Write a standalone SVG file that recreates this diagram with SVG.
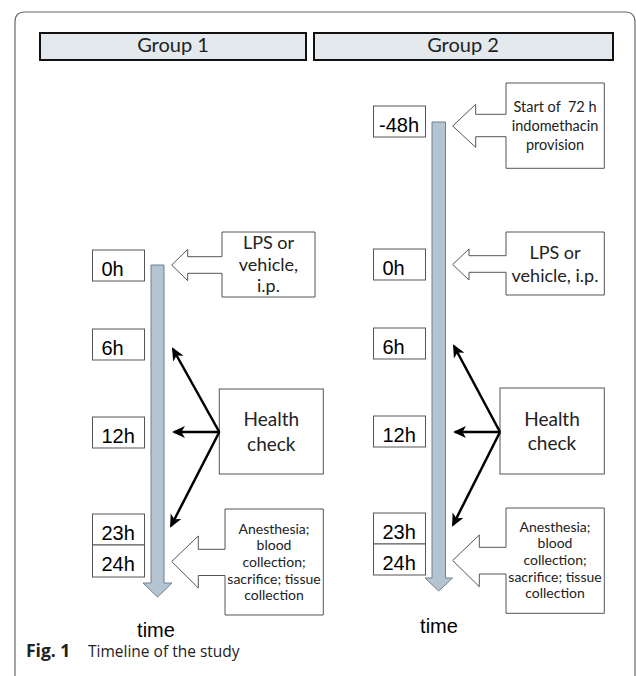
<svg xmlns="http://www.w3.org/2000/svg" width="636" height="676" viewBox="0 0 636 676">
<defs>
<style>
.frame{fill:none;stroke:#666;stroke-width:1.2}
.hdr{fill:#E3E9EC;stroke:#111;stroke-width:2}
.hdrt{font-family:Lato,"Liberation Sans",sans-serif;font-size:20px;fill:#222;text-anchor:middle}
.bar{fill:#B4C4D0;stroke:#6F808D;stroke-width:1}
.lbl{fill:#fff;stroke:#555;stroke-width:1}
.lblt{font-family:"Liberation Sans",Arial,sans-serif;font-size:20px;fill:#000}
.call{fill:#fff;stroke:#555;stroke-width:1}
.ct{font-family:Lato,"Liberation Sans",sans-serif;fill:#222;text-anchor:middle}
.c18{font-size:18px}
.c14{font-size:14.5px}
.c13{font-size:14px}
.c19{font-size:19px}
.conn{stroke:#000;stroke-width:2.5;fill:none;marker-end:url(#ah)}
.time{font-family:"Liberation Sans",Arial,sans-serif;font-size:20px;fill:#000;text-anchor:middle}
.cap{font-family:"Open Sans","Liberation Sans",sans-serif;font-size:15.5px;fill:#222}
</style>
<marker id="ah" markerUnits="userSpaceOnUse" markerWidth="16" markerHeight="14" refX="11" refY="6" orient="auto"><path d="M0,0 L13,6 L0,12 L3.5,6 Z" fill="#000"/></marker>
</defs>

<path class="frame" d="M15,676 V22 Q15,12 25,12 H625 Q635,12 635,22 V676"/>

<g id="header-group1"><rect class="hdr" x="40" y="33" width="266" height="27"/><text class="hdrt" x="173" y="52">Group 1</text></g>
<g id="header-group2"><rect class="hdr" x="314" y="33" width="299" height="27"/><text class="hdrt" x="463" y="52">Group 2</text></g>

<g id="timeline1"><path class="bar" d="M151,265 H164 V583 H172 L157.5,597 L143,583 H151 Z"/></g>
<g id="timeline2"><path class="bar" d="M432,122 H445.5 V578 H452.5 L438.75,591 L425,578 H432 Z"/></g>

<g id="g1-0h"><rect class="lbl" x="92.5" y="250" width="52" height="31"/><text class="lblt" x="101.5" y="275.5">0h</text></g>
<g id="g1-6h"><rect class="lbl" x="92.5" y="329" width="52" height="31"/><text class="lblt" x="101.5" y="354.5">6h</text></g>
<g id="g1-12h"><rect class="lbl" x="92.5" y="417" width="52" height="31"/><text class="lblt" x="101.5" y="442.5">12h</text></g>
<g id="g1-23h"><rect class="lbl" x="92.5" y="514" width="52" height="31"/><text class="lblt" x="101.5" y="539.5">23h</text></g>
<g id="g1-24h"><rect class="lbl" x="92.5" y="545" width="52" height="32"/><text class="lblt" x="101.5" y="571">24h</text></g>

<g id="g2-m48h"><rect class="lbl" x="373.5" y="106" width="52" height="31"/><text class="lblt" x="379" y="131.5">-48h</text></g>
<g id="g2-0h"><rect class="lbl" x="373.5" y="249" width="52" height="31"/><text class="lblt" x="382.5" y="274.5">0h</text></g>
<g id="g2-6h"><rect class="lbl" x="373.5" y="328" width="52" height="31"/><text class="lblt" x="382.5" y="353.5">6h</text></g>
<g id="g2-12h"><rect class="lbl" x="373.5" y="416" width="52" height="31"/><text class="lblt" x="382.5" y="441.5">12h</text></g>
<g id="g2-23h"><rect class="lbl" x="373.5" y="513" width="52" height="31"/><text class="lblt" x="382.5" y="538.5">23h</text></g>
<g id="g2-24h"><rect class="lbl" x="373.5" y="544" width="52" height="31"/><text class="lblt" x="382.5" y="569.5">24h</text></g>

<g id="g1-lps">
<polygon class="call" points="222,232 315,232 315,297 222,297 222,273.3 187.7,273.3 187.7,280.7 171.7,265 187.7,249.3 187.7,256.7 222,256.7"/>
<text class="ct c18" x="268.5" y="248.5">LPS or</text>
<text class="ct c18" x="268.5" y="270.5">vehicle,</text>
<text class="ct c18" x="268.5" y="292">i.p.</text>
</g>

<g id="g2-start">
<polygon class="call" points="506,83 604.3,83 604.3,168.3 506,168.3 506,136.7 475.7,136.7 475.7,147.3 452.7,126 475.7,104.3 475.7,114.3 506,114.3"/>
<text class="ct c14" x="555" y="112" xml:space="preserve">Start of  72 h</text>
<text class="ct c14" x="555" y="131">indomethacin</text>
<text class="ct c14" x="555" y="150">provision</text>
</g>

<g id="g2-lps">
<polygon class="call" points="506,232 604.3,232 604.3,295 506,295 506,272.3 469,272.3 469,280 452.7,264.5 469,249 469,255.7 506,255.7"/>
<text class="ct c18" x="555" y="258.5">LPS or</text>
<text class="ct c18" x="555" y="281.5">vehicle, i.p.</text>
</g>

<g id="g1-health">
<rect class="lbl" x="219.3" y="389" width="104" height="85"/>
<text class="ct c19" x="271.3" y="426">Health</text>
<text class="ct c19" x="271.3" y="450.5">check</text>
</g>

<g id="g2-health">
<rect class="lbl" x="500" y="388" width="104.3" height="86"/>
<text class="ct c19" x="552" y="425.5">Health</text>
<text class="ct c19" x="552" y="450">check</text>
</g>

<g id="g1-end">
<polygon class="call" points="225,509 323.3,509 323.3,615 225,615 225,575.5 198.3,575.5 198.3,588 171.7,561.5 198.3,536 198.3,549.3 225,549.3"/>
<text class="ct c13" x="274" y="533.5">Anesthesia;</text>
<text class="ct c13" x="274" y="550.2">blood</text>
<text class="ct c13" x="274" y="567">collection;</text>
<text class="ct c13" x="274" y="583.7">sacrifice; tissue</text>
<text class="ct c13" x="274" y="600.4">collection</text>
</g>

<g id="g2-end">
<polygon class="call" points="506,508 604.3,508 604.3,613.3 506,613.3 506,574 479.3,574 479.3,586.7 452.7,560.5 479.3,535 479.3,547.3 506,547.3"/>
<text class="ct c13" x="555" y="531.5">Anesthesia;</text>
<text class="ct c13" x="555" y="548.2">blood</text>
<text class="ct c13" x="555" y="565">collection;</text>
<text class="ct c13" x="555" y="581.7">sacrifice; tissue</text>
<text class="ct c13" x="555" y="598.4">collection</text>
</g>

<g id="connectors">
<line class="conn" x1="219.3" y1="432" x2="173" y2="349"/>
<line class="conn" x1="219.3" y1="432" x2="174" y2="432"/>
<line class="conn" x1="219.3" y1="432" x2="171" y2="526"/>
<line class="conn" x1="500" y1="432" x2="454" y2="346"/>
<line class="conn" x1="500" y1="432" x2="455" y2="432"/>
<line class="conn" x1="500" y1="432" x2="453" y2="525"/>
</g>

<text class="time" x="156" y="637">time</text>
<text class="time" x="439" y="633">time</text>

<text class="cap" x="26" y="657"><tspan font-weight="bold" font-size="17.5px">Fig. 1</tspan></text>
<text class="cap" x="88" y="657">Timeline of the study</text>
</svg>
